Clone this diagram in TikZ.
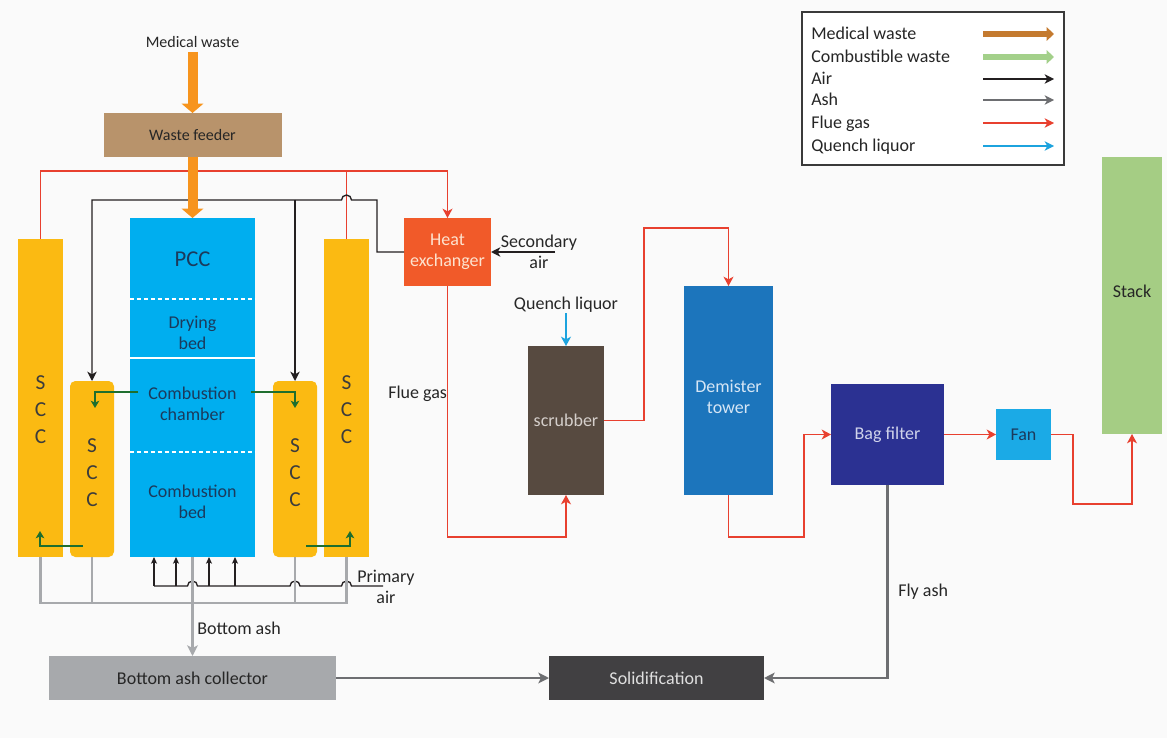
\documentclass[tikz,border=0pt]{standalone}
\usepackage{fontspec}
\setmainfont{Carlito}
\usetikzlibrary{arrows.meta}
\definecolor{bg}{HTML}{FAFAFA}
\definecolor{orangeA}{HTML}{F7941D}
\definecolor{feedercol}{HTML}{B8936B}
\definecolor{pcccol}{HTML}{00AEEF}
\definecolor{scccol}{HTML}{FBBA12}
\definecolor{hexcol}{HTML}{F15A29}
\definecolor{scrubcol}{HTML}{574A40}
\definecolor{demistcol}{HTML}{1C75BC}
\definecolor{bagcol}{HTML}{2B3192}
\definecolor{fancol}{HTML}{1BAAE6}
\definecolor{stackcol}{HTML}{A5CD84}
\definecolor{baccol}{HTML}{A7A9AC}
\definecolor{solcol}{HTML}{414042}
\definecolor{fluecol}{HTML}{E8402F}
\definecolor{ashL}{HTML}{A7A9AC}
\definecolor{ashD}{HTML}{6D6E71}
\definecolor{greenD}{HTML}{1E6E2E}
\definecolor{quenchcol}{HTML}{1CA3DE}
\definecolor{legbrown}{HTML}{C47A2F}
\definecolor{leggreen}{HTML}{A3D08A}
\definecolor{txt}{HTML}{262626}
\definecolor{navy}{HTML}{1B3A5C}
\definecolor{airc}{HTML}{231F20}
\definecolor{hextxt}{HTML}{FDE3CF}
\definecolor{scrubtxt}{HTML}{D5CFCB}
\definecolor{demisttxt}{HTML}{D6E6F5}
\definecolor{bagtxt}{HTML}{D0D3EB}
\definecolor{soltxt}{HTML}{E0E0E0}
\definecolor{legline}{HTML}{3A3A3A}
\def\pxu{0.75pt}
\tikzset{
  blk/.style 2 args={minimum width=#1*\pxu, minimum height=#2*\pxu, inner sep=0pt, outer sep=0pt, draw=none},
  lbl/.style={inner sep=0pt, align=center, font=\fontsize{13.5}{16}\selectfont, text=txt},
  flueln/.style={color=fluecol, line width=1.1pt},
  fluear/.style={flueln, -{Stealth[length=7pt,width=7.5pt,inset=2pt]}},
  airln/.style={color=airc, line width=1pt},
  airar/.style={airln, -{Stealth[length=7pt,width=7pt,inset=2pt]}},
  airsm/.style={airln, line width=0.8pt, -{Stealth[length=5pt,width=4.5pt,inset=1.2pt]}},
  ashln/.style={color=ashL, line width=1.8pt},
  ashar/.style={ashln, -{Stealth[length=8pt,width=8pt,inset=2pt]}},
  ashdar/.style={color=ashD, line width=1.8pt, -{Stealth[length=8pt,width=8pt,inset=2pt]}},
  grnar/.style={color=greenD, line width=2.2pt, -{Stealth[length=5.5pt,width=6.5pt,inset=1.5pt]}},
  fatar/.style={color=orangeA, line width=7.5pt, -{Triangle[length=7pt,width=16pt]}},
  hop/.style={},
}
\begin{document}
\begin{tikzpicture}[x=0.75pt,y=-0.75pt]
\fill[bg] (0,0) rectangle (1167,738);
\useasboundingbox (0,0) rectangle (1167,738);

% ---------- legend ----------
\node[blk={262}{153}, draw=legline, line width=1pt, fill=white] (legend) at (933,88.5) {};
\foreach \t/\y/\n in {Medical waste/34/l1, Combustible waste/57/l2, Air/79/l3, Ash/100/l4, Flue gas/123/l5, Quench liquor/146/l6}
  \node[lbl, anchor=base west] (\n) at (811,\y+6) {\t};
\coordinate (la1) at (983,34);  \coordinate (lb1) at (1054,34);
\coordinate (la2) at (983,57);  \coordinate (lb2) at (1054,57);
\coordinate (la3) at (983,79);  \coordinate (lb3) at (1054,79);
\coordinate (la4) at (983,100); \coordinate (lb4) at (1054,100);
\coordinate (la5) at (983,123); \coordinate (lb5) at (1054,123);
\coordinate (la6) at (983,146); \coordinate (lb6) at (1054,146);
\draw[color=legbrown, line width=4pt, -{Triangle[length=5.5pt,width=10pt]}] (la1) -- (lb1);
\draw[color=leggreen, line width=4pt, -{Triangle[length=5.5pt,width=10pt]}] (la2) -- (lb2);
\draw[color=airc, line width=1.1pt, -{Stealth[length=7pt,width=7pt,inset=2pt]}] (la3) -- (lb3);
\draw[color=ashD, line width=1.1pt, -{Stealth[length=7pt,width=7pt,inset=2pt]}] (la4) -- (lb4);
\draw[color=fluecol, line width=1.1pt, -{Stealth[length=7pt,width=7pt,inset=2pt]}] (la5) -- (lb5);
\draw[color=quenchcol, line width=1.1pt, -{Stealth[length=7pt,width=7pt,inset=2pt]}] (la6) -- (lb6);

% ---------- equipment ----------
\node[lbl, font=\fontsize{12}{14}\selectfont] (mwl) at (192.5,42) {Medical waste};
\coordinate (mwtop) at (192.5,52);
\node[blk={178}{44}, fill=feedercol, lbl, font=\fontsize{12}{14}\selectfont] (feeder) at (192.5,135) {Waste feeder};
\node[blk={125}{339}, fill=pcccol] (pcc) at (192.5,387.5) {};
\node[blk={45}{318}, fill=scccol] (sccOL) at (40.5,398) {};
\node[blk={45}{318}, fill=scccol] (sccOR) at (346.5,398) {};
\node[blk={44}{176}, fill=scccol, rounded corners=4pt] (sccIL) at (92,469) {};
\node[blk={44}{176}, fill=scccol, rounded corners=4pt] (sccIR) at (295,469) {};
\node[blk={87}{68}, fill=hexcol, lbl, text=hextxt] (he) at (447.5,252) {Heat\\exchanger};
\node[blk={76}{149}, fill=scrubcol, lbl, text=scrubtxt] (scrub) at (566,420.5) {scrubber};
\node[blk={89}{209}, fill=demistcol, lbl, text=demisttxt] (demist) at (728.5,390.5) {};
\node[lbl, text=demisttxt] (tdemist) at (728.5,397) {Demister\\tower};
\node[blk={113}{101}, fill=bagcol, lbl, text=bagtxt] (bag) at (887.5,434.5) {Bag filter};
\node[blk={55}{51}, fill=fancol, lbl, text=navy] (fan) at (1023.5,434.5) {Fan};
\node[blk={60}{277}, fill=stackcol] (stack) at (1132,295.5) {};
\node[lbl] (tstack) at (1132,291) {Stack};
\node[blk={287}{44}, fill=baccol, lbl] (bac) at (192.5,678) {Bottom ash collector};
\node[blk={215}{44}, fill=solcol, lbl, text=soltxt] (sol) at (656.5,678) {Solidification};

% PCC inner separations
\draw[white, line width=1pt, dash pattern=on 3pt off 2.2pt] (130,299) -- (255,299);
\draw[white, line width=1.6pt] (130,358) -- (255,358);
\draw[white, line width=1pt, dash pattern=on 3pt off 2.2pt] (130,452) -- (255,452);
\node[lbl, text=navy, font=\fontsize{17}{20}\selectfont] (tpcc) at (192.5,259) {PCC};
\node[lbl, text=navy] (tdry) at (192.5,333) {Drying\\bed};
\node[lbl, text=navy] (tcc) at (192.5,404) {Combustion\\chamber};
\node[lbl, text=navy] (tcb) at (192.5,501.5) {Combustion\\bed};

% SCC letters
\node[lbl, text=txt!90, font=\fontsize{16}{20.25}\selectfont] (tsOL) at (40.5,410) {S\\C\\C};
\node[lbl, text=txt!90, font=\fontsize{16}{20.25}\selectfont] (tsOR) at (346.5,410) {S\\C\\C};
\node[lbl, text=txt!90, font=\fontsize{16}{20.25}\selectfont] (tsIL) at (92,473) {S\\C\\C};
\node[lbl, text=txt!90, font=\fontsize{16}{20.25}\selectfont] (tsIR) at (295,473) {S\\C\\C};

% free labels
\node[lbl] (tsec) at (539,252) {Secondary\\air};
\coordinate (secair) at (555,252);
\node[lbl] (tquench) at (566,305) {Quench liquor};
\coordinate (qtop) at (566,313);
\node[lbl, anchor=west] (tflue) at (388,394) {Flue gas};
\node[lbl, anchor=west] (tbash) at (197,628) {Bottom ash};
\node[lbl, anchor=west] (tfly) at (898,592) {Fly ash};
\node[lbl] (tprim) at (386,587) {Primary\\air};

% ---------- flue gas ----------
\draw[fluear] (sccOL.north) -- (sccOL.north |- 0,171) -| (he.north);
\draw[flueln] (sccOR.north) -- (sccOR.north |- 0,171);
\draw[fluear] (he.south) -- (he.south |- 0,537) -| (scrub.south);
\draw[fluear] (scrub.east) -- (scrub.east -| 644,0) |- (demist.north |- 0,228) -- (demist.north);
\draw[fluear] (demist.south) |- (804,537) |- (bag.west);
\draw[fluear] (bag.east) -- (fan.west);
\draw[fluear] (fan.east) -| (1073,504) -| (stack.south);

% ---------- air ----------
\draw[airar] (secair) -- (he.east);
\draw[airar] (he.west) -- (377,252) -- (377,200) -- (351.5,200)
   arc[start angle=0, end angle=180, radius=3.75pt] -- (sccIL.north |- 0,200) -- (sccIL.north);
\draw[airar] (sccIR.north |- 0,200) -- (sccIR.north);
\draw[airln] (383,586) -- (351.5,586) arc[start angle=0, end angle=180, radius=3.75pt]
   -- (300,586) arc[start angle=0, end angle=180, radius=3.75pt]
   -- (197.5,586) arc[start angle=0, end angle=180, radius=3.75pt] -- (154,586);
\foreach \xx in {154,176,209,235}
  \draw[airsm] (\xx,586) -- (pcc.south -| \xx,0);

% ---------- ash ----------
\draw[ashln] (sccOL.south) -- (sccOL.south |- 0,603) -- (sccOR.south |- 0,603) -- (sccOR.south);
\draw[ashln] (sccIL.south) -- (sccIL.south |- 0,603);
\draw[ashln] (sccIR.south) -- (sccIR.south |- 0,603);
\draw[ashar] (pcc.south) -- (bac.north);
\draw[ashdar] (bac.east) -- (sol.west);
\draw[ashdar] (bag.south) -- (bag.south |- sol.east) -- (sol.east);

% ---------- quench ----------
\draw[color=quenchcol, line width=1.6pt, -{Stealth[length=7pt,width=7.5pt,inset=2pt]}] (qtop) -- (scrub.north);

% ---------- combustible (green) ----------
\draw[grnar] (138,392) -- (95,392) -- (95,408);
\draw[grnar] (251,392) -- (295,392) -- (295,408);
\draw[grnar] (83,546) -- (40,546) -- (40,531);
\draw[grnar] (306,546) -- (350,546) -- (350,531);

% ---------- medical waste ----------
\draw[fatar] (mwtop) -- (feeder.north);
\draw[fatar] (feeder.south) -- (pcc.north);
\end{tikzpicture}
\end{document}
